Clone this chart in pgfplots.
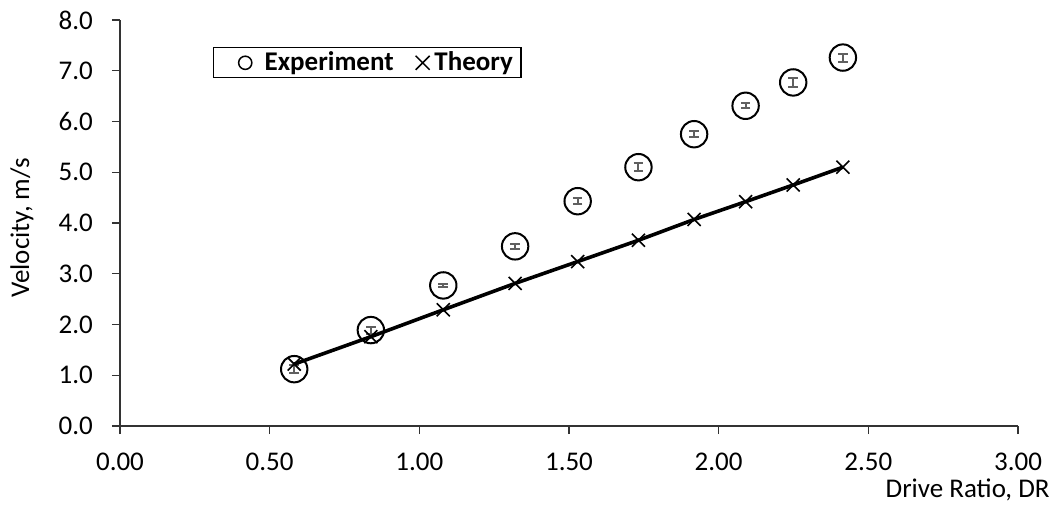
\documentclass[border=0pt]{standalone}
\usepackage{fontspec}
\setmainfont{Carlito}
\usepackage{pgfplots}
\usepackage{pgfplotstable}
\pgfplotsset{compat=1.18}
\pgfplotstableread{
x      y     e
0.582  1.12  0.08
0.838  1.89  0.07
1.080  2.77  0.025
1.320  3.54  0.055
1.529  4.43  0.065
1.732  5.10  0.075
1.918  5.75  0.055
2.090  6.31  0.045
2.249  6.77  0.09
2.415  7.26  0.08
}\expdata
\pgfplotstableread{
x      y
0.582  1.22
0.838  1.76
1.080  2.29
1.320  2.81
1.529  3.24
1.732  3.66
1.918  4.07
2.090  4.42
2.249  4.75
2.415  5.10
}\theorydata
\begin{document}
\begin{tikzpicture}
\begin{axis}[
  scale only axis, width=449pt, height=203pt,
  xmin=0, xmax=3, ymin=0, ymax=8,
  axis lines*=left,
  axis line style={line width=0.6pt, black!80},
  xtick={0,0.5,1,1.5,2,2.5,3}, ytick={0,1,2,3,4,5,6,7,8},
  xtick align=outside, ytick align=outside,
  major tick length=4pt,
  xtick style={draw=black!80, line width=0.6pt},
  ytick style={draw=black!80, line width=0.6pt},
  /pgf/number format/assume math mode=true,
  xticklabel style={yshift=-6pt, /pgf/number format/.cd, fixed, fixed zerofill, precision=2},
  yticklabel style={xshift=-6pt, /pgf/number format/.cd, fixed, fixed zerofill, precision=1},
  tick label style={font=\fontsize{13.5}{15}\selectfont},
  xlabel={Drive Ratio, DR},
  xlabel style={at={(axis description cs:1,0)}, anchor=east, inner sep=0pt, xshift=16pt, yshift=-32pt, font=\fontsize{13.5}{15}\selectfont},
  ylabel={Velocity, m/s},
  ylabel style={at={(axis description cs:0,0.488)}, anchor=center, inner sep=0pt, yshift=49pt, font=\fontsize{13.5}{15}\selectfont},
  legend columns=2,
  legend style={at={(axis description cs:0.1036,0.933)}, anchor=north west,
    draw=black, line width=0.6pt, font=\bfseries\fontsize{13.5}{15}\selectfont,
    inner xsep=2pt, inner ysep=0pt},
  clip=false,
]
\coordinate (sw) at (rel axis cs:0,0);
\addplot[only marks, mark=o, mark size=6.6pt, mark options={draw=black, fill=none, line width=1pt},
  legend image code/.code={\path[draw=none, fill=none] (0pt,0pt) -- (21.5pt,0pt); \draw[black, line width=0.75pt] (13.8pt,0pt) circle (3.3pt);},
  error bars/.cd, y dir=both, y explicit,
  error bar style={color=gray!75!black, line width=1pt},
  error mark options={rotate=90, mark size=2.4pt, line width=1pt, color=gray!75!black}]
  table[x=x, y=y, y error=e] {\expdata};
\addlegendentry{Experiment}
\addplot[black, line width=1.8pt, mark=x, mark size=4.6pt, mark options={line width=0.8pt, black},
  legend image code/.code={\path[draw=none, fill=none] (0pt,0pt) -- (9pt,0pt); \draw[black, line width=0.75pt] (9pt,-3.5pt) -- (16pt,3.5pt) (9pt,3.5pt) -- (16pt,-3.5pt);}]
  table[x=x, y=y] {\theorydata};
\addlegendentry{Theory}
\end{axis}
\pgfresetboundingbox
\path[use as bounding box] ([xshift=-60pt, yshift=-44.5pt]sw) rectangle ++(527.5pt, 257.5pt);
\end{tikzpicture}
\end{document}
